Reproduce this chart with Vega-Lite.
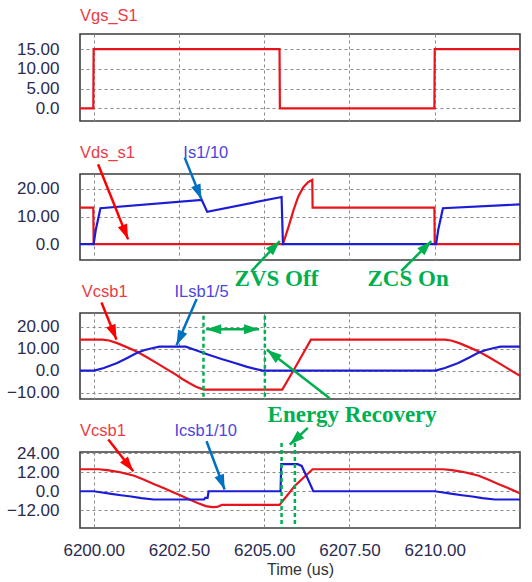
{
"$schema":"https://vega.github.io/schema/vega-lite/v6.json",
"padding":{"left":5,"top":7,"right":5,"bottom":5},
"background":"white",
"spacing":53,
"bounds":"flush",
"config":{
 "view":{"stroke":"#3c3c3c","strokeWidth":1.6},
 "axis":{"gridDash":[3,3],"gridColor":"#8a8a8a","gridWidth":1,"gridOpacity":1,"domain":false,"ticks":false,"tickSize":0,"labelFont":"Liberation Sans","labelFontSize":17,"labelColor":"#2b2b4f","titleFont":"Liberation Sans"},
 "axisY":{"labelPadding":21,"minExtent":73,"maxExtent":73,"title":null,"labelExpr":"datum.value === 0 ? '0.0' : format(datum.value, '.2f')"}
},
"datasets":{
 "p1":[{"t":6199.6,"v":0,"q":"V"},{"t":6199.99,"v":0,"q":"V"},{"t":6200.0,"v":15,"q":"V"},{"t":6205.45,"v":15,"q":"V"},{"t":6205.46,"v":0,"q":"V"},{"t":6209.99,"v":0,"q":"V"},{"t":6210.0,"v":15,"q":"V"},{"t":6212.5,"v":15,"q":"V"}],
 "p2":[
  {"t":6199.6,"v":13.2,"q":"V"},{"t":6199.99,"v":13.2,"q":"V"},{"t":6200.0,"v":0,"q":"V"},{"t":6205.55,"v":0,"q":"V"},{"t":6205.72,"v":6.5,"q":"V"},{"t":6205.86,"v":12.3,"q":"V"},{"t":6206.0,"v":17.3,"q":"V"},{"t":6206.14,"v":20.5,"q":"V"},{"t":6206.28,"v":22.4,"q":"V"},{"t":6206.41,"v":23.3,"q":"V"},{"t":6206.42,"v":13.2,"q":"V"},{"t":6209.99,"v":13.2,"q":"V"},{"t":6210.0,"v":0,"q":"V"},{"t":6212.5,"v":0,"q":"V"},
  {"t":6199.6,"v":0,"q":"I"},{"t":6200.0,"v":0,"q":"I"},{"t":6200.06,"v":5,"q":"I"},{"t":6200.2,"v":13.0,"q":"I"},{"t":6203.17,"v":16.0,"q":"I"},{"t":6203.33,"v":11.7,"q":"I"},{"t":6205.51,"v":17.1,"q":"I"},{"t":6205.55,"v":0,"q":"I"},{"t":6210.04,"v":0,"q":"I"},{"t":6210.1,"v":5,"q":"I"},{"t":6210.24,"v":13.0,"q":"I"},{"t":6212.5,"v":14.4,"q":"I"}],
 "p3":[
  {"t":6199.6,"v":14.1,"q":"V"},{"t":6200.26,"v":14.1,"q":"V"},{"t":6200.45,"v":13.7,"q":"V"},{"t":6200.69,"v":12.5,"q":"V"},{"t":6200.95,"v":10.8,"q":"V"},{"t":6201.26,"v":8.7,"q":"V"},{"t":6201.55,"v":6.2,"q":"V"},{"t":6201.84,"v":3.5,"q":"V"},{"t":6202.13,"v":0.8,"q":"V"},{"t":6202.41,"v":-1.8,"q":"V"},{"t":6202.6,"v":-3.8,"q":"V"},{"t":6202.8,"v":-5.6,"q":"V"},{"t":6203.0,"v":-7.3,"q":"V"},{"t":6203.23,"v":-8.6,"q":"V"},{"t":6205.53,"v":-8.6,"q":"V"},{"t":6205.9,"v":1.2,"q":"V"},{"t":6206.37,"v":14.1,"q":"V"},{"t":6210.29,"v":14.1,"q":"V"},{"t":6210.48,"v":13.7,"q":"V"},{"t":6210.72,"v":12.5,"q":"V"},{"t":6210.98,"v":10.8,"q":"V"},{"t":6211.29,"v":8.7,"q":"V"},{"t":6211.58,"v":6.2,"q":"V"},{"t":6211.87,"v":3.5,"q":"V"},{"t":6212.16,"v":0.8,"q":"V"},{"t":6212.44,"v":-1.8,"q":"V"},{"t":6212.5,"v":-2.3,"q":"V"},
  {"t":6199.6,"v":0,"q":"I"},{"t":6200.02,"v":0,"q":"I"},{"t":6200.3,"v":1.2,"q":"I"},{"t":6200.69,"v":3.5,"q":"I"},{"t":6201.0,"v":5.9,"q":"I"},{"t":6201.26,"v":8.0,"q":"I"},{"t":6201.5,"v":9.4,"q":"I"},{"t":6201.74,"v":10.3,"q":"I"},{"t":6201.93,"v":10.9,"q":"I"},{"t":6202.7,"v":10.9,"q":"I"},{"t":6203.0,"v":9.3,"q":"I"},{"t":6203.37,"v":7.2,"q":"I"},{"t":6203.75,"v":5.3,"q":"I"},{"t":6204.14,"v":3.5,"q":"I"},{"t":6204.5,"v":1.7,"q":"I"},{"t":6204.95,"v":0,"q":"I"},{"t":6210.02,"v":0,"q":"I"},{"t":6210.3,"v":1.2,"q":"I"},{"t":6210.69,"v":3.5,"q":"I"},{"t":6211.0,"v":5.9,"q":"I"},{"t":6211.26,"v":8.0,"q":"I"},{"t":6211.5,"v":9.4,"q":"I"},{"t":6211.74,"v":10.3,"q":"I"},{"t":6211.93,"v":10.9,"q":"I"},{"t":6212.5,"v":10.9,"q":"I"}],
 "p4":[
  {"t":6199.6,"v":13.9,"q":"V"},{"t":6200.14,"v":13.9,"q":"V"},{"t":6200.4,"v":13.4,"q":"V"},{"t":6200.71,"v":12.3,"q":"V"},{"t":6200.95,"v":11.1,"q":"V"},{"t":6201.19,"v":9.8,"q":"V"},{"t":6201.48,"v":7.3,"q":"V"},{"t":6201.76,"v":4.6,"q":"V"},{"t":6202.05,"v":2.0,"q":"V"},{"t":6202.33,"v":-0.6,"q":"V"},{"t":6202.57,"v":-2.9,"q":"V"},{"t":6202.81,"v":-5.2,"q":"V"},{"t":6203.05,"v":-7.4,"q":"V"},{"t":6203.29,"v":-9.4,"q":"V"},{"t":6203.48,"v":-10.0,"q":"V"},{"t":6203.62,"v":-9.9,"q":"V"},{"t":6203.76,"v":-8.6,"q":"V"},{"t":6205.45,"v":-8.6,"q":"V"},{"t":6205.9,"v":3.5,"q":"V"},{"t":6206.42,"v":13.9,"q":"V"},{"t":6210.24,"v":13.9,"q":"V"},{"t":6210.5,"v":13.4,"q":"V"},{"t":6210.81,"v":12.3,"q":"V"},{"t":6211.05,"v":11.1,"q":"V"},{"t":6211.29,"v":9.8,"q":"V"},{"t":6211.58,"v":7.3,"q":"V"},{"t":6211.86,"v":4.6,"q":"V"},{"t":6212.15,"v":2.0,"q":"V"},{"t":6212.43,"v":-0.6,"q":"V"},{"t":6212.5,"v":-1.2,"q":"V"},
  {"t":6199.6,"v":0,"q":"I"},{"t":6200.0,"v":0,"q":"I"},{"t":6200.2,"v":-0.6,"q":"I"},{"t":6200.52,"v":-1.7,"q":"I"},{"t":6200.8,"v":-2.5,"q":"I"},{"t":6201.1,"v":-3.3,"q":"I"},{"t":6201.4,"v":-4.3,"q":"I"},{"t":6201.76,"v":-5.2,"q":"I"},{"t":6203.24,"v":-5.2,"q":"I"},{"t":6203.27,"v":-4.2,"q":"I"},{"t":6203.34,"v":-4.2,"q":"I"},{"t":6203.37,"v":0,"q":"I"},{"t":6205.48,"v":0,"q":"I"},{"t":6205.5,"v":17.1,"q":"I"},{"t":6205.98,"v":17.1,"q":"I"},{"t":6206.1,"v":16.0,"q":"I"},{"t":6206.28,"v":7.7,"q":"I"},{"t":6206.44,"v":0,"q":"I"},{"t":6210.0,"v":0,"q":"I"},{"t":6210.2,"v":-0.6,"q":"I"},{"t":6210.52,"v":-1.7,"q":"I"},{"t":6210.8,"v":-2.5,"q":"I"},{"t":6211.1,"v":-3.3,"q":"I"},{"t":6211.4,"v":-4.3,"q":"I"},{"t":6211.76,"v":-5.2,"q":"I"},{"t":6212.5,"v":-5.2,"q":"I"}]
},
"vconcat":[
 {
  "width":440,"height":87,
  "encoding":{
   "x":{"field":"t","type":"quantitative","scale":{"domain":[6199.6,6212.5],"nice":false,"zero":false},"axis":{"values":[6200,6202.5,6205,6207.5,6210],"labels":false,"title":null,"grid":true}},
   "y":{"field":"v","type":"quantitative","scale":{"domain":[-3.2,18.8],"nice":false,"zero":false},"axis":{"values":[0,5,10,15]}}
  },
  "layer":[
   {"data":{"name":"p1"},"mark":{"type":"line","strokeWidth":2.2},"encoding":{"color":{"field":"q","type":"nominal","scale":{"domain":["V","I"],"range":["#e8141c","#1c1cd6"]},"legend":null}}},
   {"data":{"values":[{"t":6199.6,"v":23.4,"txt":"Vgs_S1"}]},"mark":{"type":"text","align":"left","baseline":"middle","font":"Liberation Sans","fontSize":16.5,"color":"#ec3b45"},"encoding":{"text":{"field":"txt"}}}
  ]
 },
 {
  "width":440,"height":86,
  "encoding":{
   "x":{"field":"t","type":"quantitative","scale":{"domain":[6199.6,6212.5],"nice":false,"zero":false},"axis":{"values":[6200,6202.5,6205,6207.5,6210],"labels":false,"title":null,"grid":true}},
   "y":{"field":"v","type":"quantitative","scale":{"domain":[-5.8,25.45],"nice":false,"zero":false},"axis":{"values":[0,10,20]}}
  },
  "layer":[
   {"data":{"name":"p2"},"mark":{"type":"line","strokeWidth":2.2},"encoding":{"color":{"field":"q","type":"nominal","scale":{"domain":["V","I"],"range":["#e8141c","#1c1cd6"]},"legend":null}}},
   {"data":{"values":[{"t":6199.6,"v":33.2,"txt":"Vds_s1"}]},"mark":{"type":"text","align":"left","baseline":"middle","font":"Liberation Sans","fontSize":16.5,"color":"#ec3b45"},"encoding":{"text":{"field":"txt"}}},
   {"data":{"values":[{"t":6202.63,"v":33.2,"txt":"Is1/10"}]},"mark":{"type":"text","align":"left","baseline":"middle","font":"Liberation Sans","fontSize":16.5,"color":"#4e44dc"},"encoding":{"text":{"field":"txt"}}},
   {"data":{"values":[{"t":6200.13,"v":29.0,"t2":6201.01,"v2":1.7}]},"mark":{"type":"rule","color":"#ff0000","strokeWidth":2.5},"encoding":{"x2":{"field":"t2"},"y2":{"field":"v2"}}},
   {"data":{"values":[{"t":6201.01,"v":1.7}]},"mark":{"type":"point","shape":"M0,0L1,3L-1,3Z","filled":true,"opacity":1,"color":"#ff0000","size":100,"angle":158}},
   {"data":{"values":[{"t":6202.67,"v":31.4,"t2":6203.16,"v2":16.3}]},"mark":{"type":"rule","color":"#0070c0","strokeWidth":2.5},"encoding":{"x2":{"field":"t2"},"y2":{"field":"v2"}}},
   {"data":{"values":[{"t":6203.16,"v":16.3}]},"mark":{"type":"point","shape":"M0,0L1,3L-1,3Z","filled":true,"opacity":1,"color":"#0070c0","size":100,"angle":158}},
   {"data":{"values":[{"t":6204.63,"v":-9.8,"t2":6205.46,"v2":1.1},{"t":6209.02,"v":-9.8,"t2":6209.9,"v2":1.1}]},"mark":{"type":"rule","color":"#00b050","strokeWidth":2.5},"encoding":{"x2":{"field":"t2"},"y2":{"field":"v2"}}},
   {"data":{"values":[{"t":6205.46,"v":1.1},{"t":6209.9,"v":1.1}]},"mark":{"type":"point","shape":"M0,0L1,3L-1,3Z","filled":true,"opacity":1,"color":"#00b050","size":100,"angle":44}},
   {"data":{"values":[{"t":6205.36,"v":-12.8,"txt":"ZVS Off"},{"t":6209.22,"v":-12.8,"txt":"ZCS On"}]},"mark":{"type":"text","align":"center","baseline":"middle","font":"Liberation Serif","fontWeight":"bold","fontSize":23,"color":"#00b050"},"encoding":{"text":{"field":"txt"}}}
  ]
 },
 {
  "width":440,"height":86,
  "encoding":{
   "x":{"field":"t","type":"quantitative","scale":{"domain":[6199.6,6212.5],"nice":false,"zero":false},"axis":{"values":[6200,6202.5,6205,6207.5,6210],"labels":false,"title":null,"grid":true}},
   "y":{"field":"v","type":"quantitative","scale":{"domain":[-12.9,26.2],"nice":false,"zero":false},"axis":{"values":[-10,0,10,20]}}
  },
  "layer":[
   {"data":{"name":"p3"},"mark":{"type":"line","strokeWidth":2.2},"encoding":{"color":{"field":"q","type":"nominal","scale":{"domain":["V","I"],"range":["#e8141c","#1c1cd6"]},"legend":null}}},
   {"data":{"values":[{"t":6203.22,"v":24.9,"v2":-12.9},{"t":6205.02,"v":24.9,"v2":-12.9}]},"mark":{"type":"rule","color":"#00b050","strokeWidth":2.5,"strokeDash":[4,3]},"encoding":{"y2":{"field":"v2"}}},
   {"data":{"values":[{"t":6199.65,"v":35.6,"txt":"Vcsb1"}]},"mark":{"type":"text","align":"left","baseline":"middle","font":"Liberation Sans","fontSize":16.5,"color":"#ec3b45"},"encoding":{"text":{"field":"txt"}}},
   {"data":{"values":[{"t":6202.37,"v":35.6,"txt":"ILsb1/5"}]},"mark":{"type":"text","align":"left","baseline":"middle","font":"Liberation Sans","fontSize":16.5,"color":"#4e44dc"},"encoding":{"text":{"field":"txt"}}},
   {"data":{"values":[{"t":6200.23,"v":31.0,"t2":6200.67,"v2":14.1}]},"mark":{"type":"rule","color":"#ff0000","strokeWidth":2.5},"encoding":{"x2":{"field":"t2"},"y2":{"field":"v2"}}},
   {"data":{"values":[{"t":6200.67,"v":14.1}]},"mark":{"type":"point","shape":"M0,0L1,3L-1,3Z","filled":true,"opacity":1,"color":"#ff0000","size":100,"angle":158}},
   {"data":{"values":[{"t":6203.02,"v":32.6,"t2":6202.43,"v2":11.5}]},"mark":{"type":"rule","color":"#0070c0","strokeWidth":2.5},"encoding":{"x2":{"field":"t2"},"y2":{"field":"v2"}}},
   {"data":{"values":[{"t":6202.43,"v":11.5}]},"mark":{"type":"point","shape":"M0,0L1,3L-1,3Z","filled":true,"opacity":1,"color":"#0070c0","size":100,"angle":204}},
   {"data":{"values":[{"t":6203.3,"v":18.8,"t2":6204.85,"v2":18.8},{"t":6206.92,"v":-12.6,"t2":6205.08,"v2":9.5}]},"mark":{"type":"rule","color":"#00b050","strokeWidth":2.5},"encoding":{"x2":{"field":"t2"},"y2":{"field":"v2"}}},
   {"data":{"values":[{"t":6203.3,"v":18.8}]},"mark":{"type":"point","shape":"M0,0L1,3L-1,3Z","filled":true,"opacity":1,"color":"#00b050","size":100,"angle":270}},
   {"data":{"values":[{"t":6204.85,"v":18.8}]},"mark":{"type":"point","shape":"M0,0L1,3L-1,3Z","filled":true,"opacity":1,"color":"#00b050","size":100,"angle":90}},
   {"data":{"values":[{"t":6205.08,"v":9.5}]},"mark":{"type":"point","shape":"M0,0L1,3L-1,3Z","filled":true,"opacity":1,"color":"#00b050","size":100,"angle":308}},
   {"data":{"values":[{"t":6207.58,"v":-20.0,"txt":"Energy Recovery"}]},"mark":{"type":"text","align":"center","baseline":"middle","font":"Liberation Serif","fontWeight":"bold","fontSize":23,"color":"#00b050"},"encoding":{"text":{"field":"txt"}}}
  ]
 },
 {
  "width":440,"height":76,
  "encoding":{
   "x":{"field":"t","type":"quantitative","scale":{"domain":[6199.6,6212.5],"nice":false,"zero":false},"axis":{"values":[6200,6202.5,6205,6207.5,6210],"format":".2f","labelPadding":14,"labelFlush":false,"labelOverlap":false,"title":"Time (us)","titleFontSize":16,"titleFontWeight":"normal","titleColor":"#333333","titlePadding":3,"grid":true}},
   "y":{"field":"v","type":"quantitative","scale":{"domain":[-23.2,24.8],"nice":false,"zero":false},"axis":{"values":[-12,0,12,24]}}
  },
  "layer":[
   {"data":{"name":"p4"},"mark":{"type":"line","strokeWidth":2.2},"encoding":{"color":{"field":"q","type":"nominal","scale":{"domain":["V","I"],"range":["#e8141c","#1c1cd6"]},"legend":null}}},
   {"data":{"values":[{"t":6205.51,"v":30.5,"v2":-23.2},{"t":6205.9,"v":30.5,"v2":-23.2}]},"mark":{"type":"rule","color":"#00b050","strokeWidth":2.5,"strokeDash":[4,3]},"encoding":{"y2":{"field":"v2"}}},
   {"data":{"values":[{"t":6199.6,"v":37.9,"txt":"Vcsb1"}]},"mark":{"type":"text","align":"left","baseline":"middle","font":"Liberation Sans","fontSize":16.5,"color":"#ec3b45"},"encoding":{"text":{"field":"txt"}}},
   {"data":{"values":[{"t":6202.37,"v":37.9,"txt":"Icsb1/10"}]},"mark":{"type":"text","align":"left","baseline":"middle","font":"Liberation Sans","fontSize":16.5,"color":"#4e44dc"},"encoding":{"text":{"field":"txt"}}},
   {"data":{"values":[{"t":6200.43,"v":32.7,"t2":6201.16,"v2":12.6}]},"mark":{"type":"rule","color":"#ff0000","strokeWidth":2.5},"encoding":{"x2":{"field":"t2"},"y2":{"field":"v2"}}},
   {"data":{"values":[{"t":6201.16,"v":12.6}]},"mark":{"type":"point","shape":"M0,0L1,3L-1,3Z","filled":true,"opacity":1,"color":"#ff0000","size":100,"angle":142}},
   {"data":{"values":[{"t":6203.31,"v":31.6,"t2":6203.84,"v2":1.1}]},"mark":{"type":"rule","color":"#0070c0","strokeWidth":2.5},"encoding":{"x2":{"field":"t2"},"y2":{"field":"v2"}}},
   {"data":{"values":[{"t":6203.84,"v":1.1}]},"mark":{"type":"point","shape":"M0,0L1,3L-1,3Z","filled":true,"opacity":1,"color":"#0070c0","size":100,"angle":159}},
   {"data":{"values":[{"t":6206.28,"v":40.0,"t2":6205.75,"v2":29.5}]},"mark":{"type":"rule","color":"#00b050","strokeWidth":2.5},"encoding":{"x2":{"field":"t2"},"y2":{"field":"v2"}}},
   {"data":{"values":[{"t":6205.75,"v":29.5}]},"mark":{"type":"point","shape":"M0,0L1,3L-1,3Z","filled":true,"opacity":1,"color":"#00b050","size":100,"angle":228}}
  ]
 }
]
}
